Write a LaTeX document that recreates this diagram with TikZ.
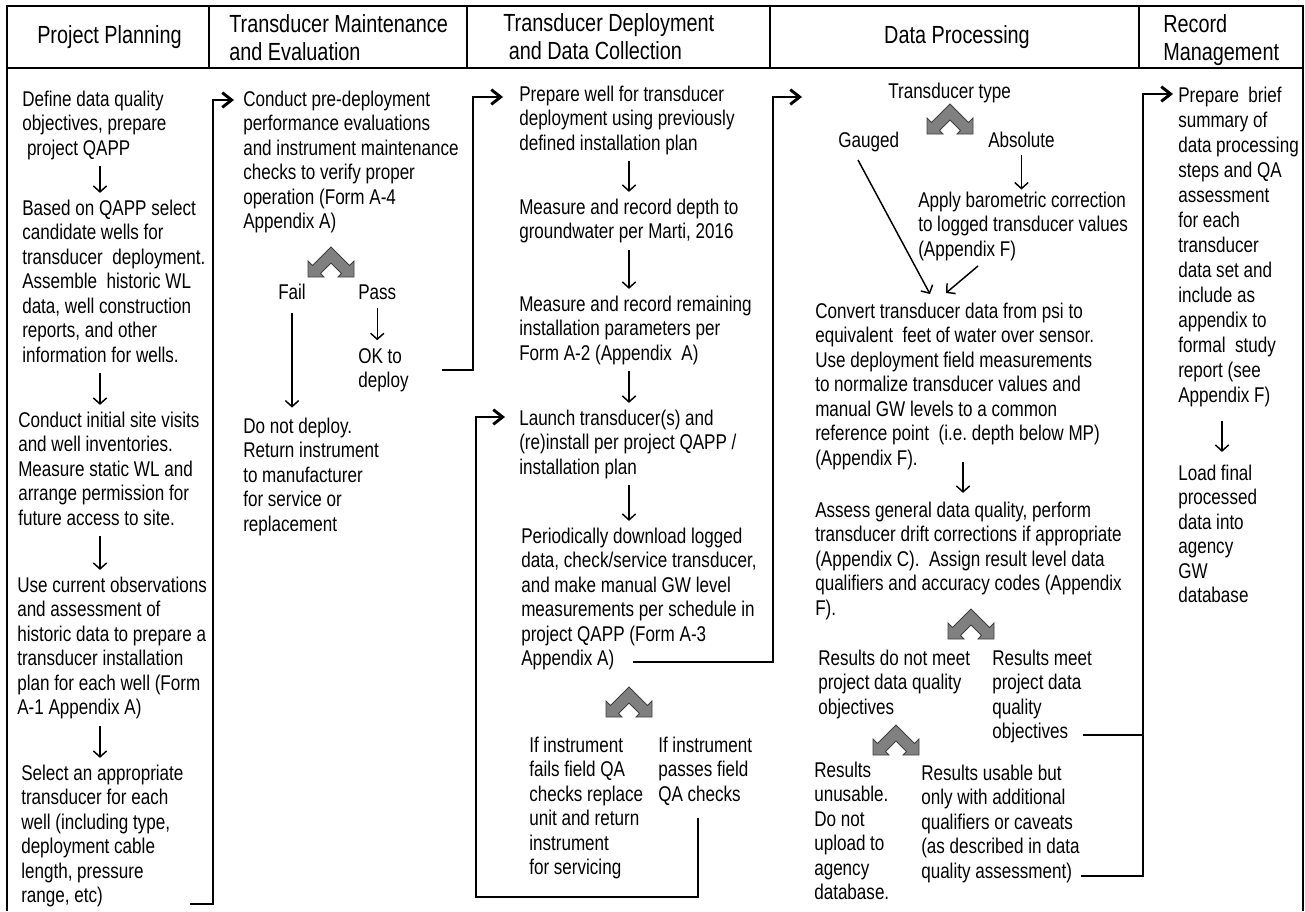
\documentclass[tikz,border=0pt]{standalone}
\usepackage{fontspec}
\setmainfont{Liberation Sans}[FakeStretch=0.8]
\usetikzlibrary{arrows.meta}

\newcommand{\cuerpo}{\fontsize{16pt}{18.4pt}\selectfont}
\newcommand{\cabecera}{\fontsize{18.6pt}{21pt}\selectfont}
\newcommand{\bloque}[1]{\begin{tabular}[t]{@{}l@{}}#1\end{tabular}}

\tikzset{
  txt/.style={anchor=base west, inner sep=0pt, font=\cuerpo},
  hdr/.style={txt, font=\cabecera},
  flecha/.style={-{Straight Barb[length=4.5pt,width=10pt]}, line width=1.1pt, shorten <=2.5pt, shorten >=3.5pt},
  conector/.style={-{Straight Barb[length=7pt,width=11pt]}, line width=2.2pt},
  borde/.style={line width=1.6pt},
  bifurca/.pic={
    \filldraw[fill=gray, draw=black!75, line width=0.6pt]
      (0,0) -- (18.5,18.5) -- (23,14) -- (23,30) -- (7,30) -- (10.5,26.5) -- (0,16)
      -- (-10.5,26.5) -- (-7,30) -- (-23,30) -- (-23,14) -- (-18.5,18.5) -- cycle;
  }
}

\begin{document}
\begin{tikzpicture}[x=0.75pt, y=-0.75pt]
    \useasboundingbox (0,0) rectangle (1305,911);

    % Marco y cabeceras
    \draw[borde] (7,911) -- (7,6) -- (1303,6) -- (1303,911);
    \draw[borde] (7,68) -- (1303,68);
    \draw[borde] (209,6) -- (209,68) (467,6) -- (467,68) (770,6) -- (770,68) (1139,6) -- (1139,68);

    \node[hdr, anchor=base] (h1) at (109.5,43) {Project Planning};
    \node[hdr] (h2) at (229,32) {\bloque{Transducer Maintenance\\and Evaluation}};
    \node[hdr] (h3) at (503,31) {\bloque{Transducer Deployment\\~and Data Collection}};
    \node[hdr, anchor=base] (h4) at (957,43) {Data Processing};
    \node[hdr] (h5) at (1163,32) {\bloque{Record\\Management}};

    % Ejes de las flechas verticales
    \coordinate (ax1) at (100,0);
    \coordinate (ax3) at (629,0);
    \coordinate (ax4) at (963,0);
    \coordinate (ax5) at (1222,0);

    % Columna 1: planificacion
    \node[txt] (qdo) at (22,106) {\bloque{Define data quality\\objectives, prepare\\~project QAPP}};
    \node[txt] (cand) at (22,215) {\bloque{Based on QAPP select\\candidate wells for\\transducer\ \ deployment.\\Assemble\ \ historic WL\\data, well construction\\reports, and other\\information for wells.}};
    \node[txt] (visit) at (18,427) {\bloque{Conduct initial site visits\\and well inventories.\\Measure static WL and\\arrange permission for\\future access to site.}};
    \node[txt] (plan) at (17,592) {\bloque{Use current observations\\and assessment of\\historic data to prepare a\\transducer installation\\plan for each well (Form\\A-1 Appendix A)}};
    \node[txt] (tsel) at (21,780) {\bloque{Select an appropriate\\transducer for each\\well (including type,\\deployment cable\\length, pressure\\range, etc)}};

    \draw[flecha] (qdo.south -| ax1) -- (cand.north -| ax1);
    \draw[flecha] (cand.south -| ax1) -- (visit.north -| ax1);
    \draw[flecha] (visit.south -| ax1) -- (plan.north -| ax1);
    \draw[flecha] (plan.south -| ax1) -- (tsel.north -| ax1);

    % Columna 2: mantenimiento
    \node[txt] (pdc) at (243,106) {\bloque{Conduct pre-deployment\\performance evaluations\\and instrument maintenance\\checks to verify proper\\operation (Form A-4\\Appendix A)}};
    \pic at (331,247) {bifurca};
    \node[txt] (fail) at (278,299) {\bloque{Fail}};
    \node[txt] (pass) at (358,299) {\bloque{Pass}};
    \node[txt] (ok) at (358,363) {\bloque{OK to\\deploy}};
    \node[txt] (dnd) at (243,433) {\bloque{Do not deploy.\\Return instrument\\to manufacturer\\for service or\\replacement}};

    \draw[flecha, shorten <=5pt, shorten >=6pt] (fail.south) -- (dnd.north -| fail.south);
    \draw[flecha, shorten <=1pt, shorten >=4pt] (pass.south) -- (ok.north -| pass.south);

    % Columna 3: despliegue
    \node[txt] (prep) at (519,101) {\bloque{Prepare well for transducer\\deployment using previously\\defined installation plan}};
    \node[txt] (depth) at (519,214) {\bloque{Measure and record depth to\\groundwater per Marti, 2016}};
    \node[txt] (parm) at (519,311) {\bloque{Measure and record remaining\\installation parameters per\\Form A-2 (Appendix\ \ A)}};
    \node[txt] (launch) at (519,425) {\bloque{Launch transducer(s) and\\(re)install per project QAPP /\\installation plan}};
    \node[txt] (per) at (521,543) {\bloque{Periodically download logged\\data, check/service transducer,\\and make manual GW level\\measurements per schedule in\\project QAPP (Form A-3\\Appendix A)}};
    \pic at (629,687) {bifurca};
    \node[txt] (failq) at (529,752) {\bloque{If instrument\\fails field QA\\checks replace\\unit and return\\instrument\\for servicing}};
    \node[txt] (passq) at (658,752) {\bloque{If instrument\\passes field\\QA checks}};

    \draw[flecha] (prep.south -| ax3) -- (depth.north -| ax3);
    \draw[flecha] (depth.south -| ax3) -- (parm.north -| ax3);
    \draw[flecha] (parm.south -| ax3) -- (launch.north -| ax3);
    \draw[flecha] (launch.south -| ax3) -- (per.north -| ax3);

    % Columna 4: procesamiento
    \node[txt] (ttype) at (888,98) {\bloque{Transducer type}};
    \pic at (950,104) {bifurca};
    \node[txt] (gauged) at (838,147) {\bloque{Gauged}};
    \node[txt] (absol) at (988,147) {\bloque{Absolute}};
    \node[txt] (apply) at (918,207) {\bloque{Apply barometric correction\\to logged transducer values\\(Appendix F)}};
    \node[txt] (conv) at (815,318) {\bloque{Convert transducer data from psi to\\equivalent\ \ feet of water over sensor.\\Use deployment field measurements\\to normalize transducer values and\\manual GW levels to a common\\reference point\ \ (i.e.\ depth below MP)\\(Appendix F).}};
    \node[txt] (assess) at (815,517) {\bloque{Assess general data quality, perform\\transducer drift corrections if appropriate\\(Appendix C).\ \ Assign result level data\\qualifiers and accuracy codes (Appendix\\F).}};
    \pic at (971,609) {bifurca};
    \node[txt] (notmeet) at (818,665) {\bloque{Results do not meet\\project data quality\\objectives}};
    \node[txt] (meet) at (992,665) {\bloque{Results meet\\project data\\quality\\objectives}};
    \pic at (896,725) {bifurca};
    \node[txt] (unus) at (814,777) {\bloque{Results\\unusable.\\Do not\\upload to\\agency\\database.}};
    \node[txt] (usable) at (921,780) {\bloque{Results usable but\\only with additional\\qualifiers or caveats\\(as described in data\\quality assessment)}};

    \draw[flecha, shorten <=0pt, shorten >=0pt] (absol.south) -- (apply.north -| absol.south);
    \draw[flecha, shorten <=0pt, shorten >=0pt] ([shift={(20,13)}]gauged.base west) -- ([shift={(115,-24)}]conv.base west);
    \draw[flecha, shorten <=0pt, shorten >=0pt] ([shift={(60,59)}]apply.base west) -- ([shift={(131,-25)}]conv.base west);
    \draw[flecha, shorten <=0pt, shorten >=5pt] ([shift={(148,144)}]conv.base west) -- (assess.north -| ax4);

    % Columna 5: registros
    \node[txt, font=\fontsize{16pt}{18.8pt}\selectfont] (recsum) at (1178,102) {\bloque{Prepare\ \ brief\\summary of\\data processing\\steps and QA\\assessment\\for each\\transducer\\data set and\\include as\\appendix to\\formal\ \ study\\report (see\\Appendix F)}};
    \node[txt] (load) at (1178,480) {\bloque{Load final\\processed\\data into\\agency\\GW\\database}};

    \draw[flecha, shorten <=8pt, shorten >=8pt] (recsum.south -| ax5) -- (load.north -| ax5);

    % Conectores entre columnas
    \draw[conector] ([shift={(169,124)}]tsel.base west) -- ++(23,0) |- ([shift={(-9,-6)}]pdc.base west);
    \draw[conector] ([shift={(84,7)}]ok.base west) -- ++(31,0) |- ([shift={(-16,-4)}]prep.base west);
    \draw[conector] ([shift={(112,119)}]per.base west) -- ++(140,0) |- ([shift={(-86,-1)}]ttype.base west);
    \draw[conector] ([shift={(40,66)}]passq.base west) -- ++(0,79) -- ++(-222,0) |- ([shift={(-14,-8)}]launch.base west);
    \draw[conector, -] ([shift={(91,70)}]meet.base west) -- ++(60,0);
    \draw[conector] ([shift={(160,96)}]usable.base west) -- ++(62,0) |- ([shift={(-5,-8)}]recsum.base west);
\end{tikzpicture}
\end{document}
